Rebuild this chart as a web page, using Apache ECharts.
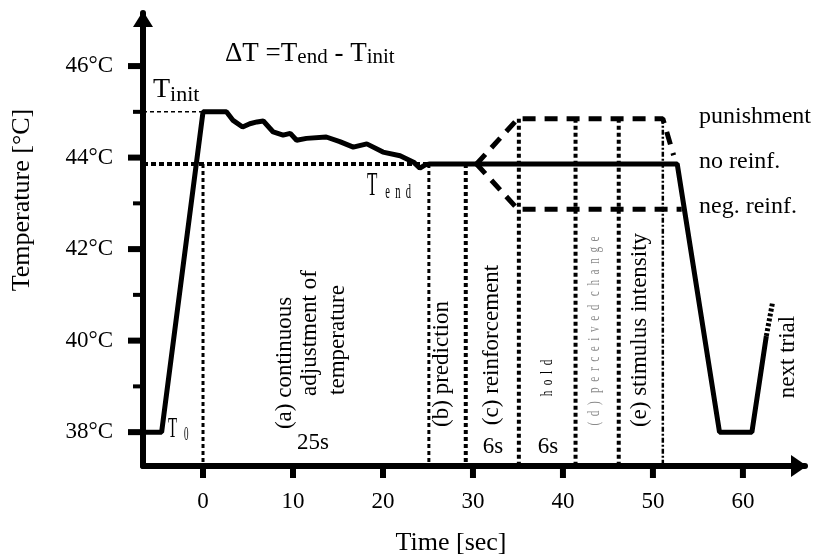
<!DOCTYPE html>
<html>
<head>
<meta charset="utf-8">
<title>Trial temperature course</title>
<script src="https://cdn.jsdelivr.net/npm/echarts@6/dist/echarts.min.js"></script>
<style>
  html, body { margin: 0; padding: 0; background: #fff; }
  #main { width: 821px; height: 557px; }
</style>
</head>
<body>
<div id="main"></div>
<script>
// axis ticks
var xTicks = [0, 10, 20, 30, 40, 50, 60];
var yTicks = [38, 40, 42, 44, 46];
var yMinorTicks = [39, 41, 43, 45];

// temperature course of one trial (sec, °C)
var mainTime = [-6.7, -4.6, 0, 1.9, 2.6, 3.3, 4.4, 5.2, 6.0, 6.7, 7.8, 8.9, 9.7, 10.4, 11.5, 13.7, 15.2, 16.7, 18.2, 20.0, 21.9, 23.4, 24.1, 24.7, 25.2, 52.7, 57.4, 61.0, 62.6];
var mainTemp = [38, 38, 45, 45, 45, 44.82, 44.67, 44.74, 44.78, 44.8, 44.56, 44.49, 44.53, 44.38, 44.42, 44.45, 44.35, 44.23, 44.3, 44.12, 44.04, 43.9, 43.77, 43.84, 43.86, 43.86, 38, 38, 40.1];
var nextTime = [62.6, 63.3];
var nextTemp = [40.1, 40.84];
var punTime = [30.4, 35.0, 51.1, 52.3];
var punTemp = [43.86, 44.85, 44.85, 44.05];
var negTime = [30.4, 35.0, 53.2];
var negTemp = [43.86, 42.87, 42.87];

var tInit = 45;
var tEnd = 43.86;
// phase boundaries: time and top of the dotted line
var phaseTime = [0, 25.1, 29.2, 35.1, 41.4, 46.2, 51.1];
var phaseTop = [43.86, 43.86, 43.86, 44.85, 44.85, 44.85, 44.85];

var XMIN = -6.67, XMAX = 66.9, YMIN = 37.26, YMAX = 47.16;
var SERIF = '"Liberation Serif", "Times New Roman", serif';

function pairs(xs, ys) {
    return xs.map(function (x, i) { return [x, ys[i]]; });
}
function spaced(s, gap) {
    return s.split('').join(gap);
}
function lineSeries(data, width, type, z) {
    return {
        type: 'line', data: data, symbol: 'none', silent: true, z: z || 3,
        lineStyle: { color: '#000', width: width, type: type || 'solid', cap: 'butt' }
    };
}
// tick marks drawn through the axis scales
function tickSeries(values, onX, len, width) {
    return {
        type: 'custom', silent: true, clip: false, z: 6,
        data: values.map(function (v) { return onX ? [v, YMIN] : [XMIN, v]; }),
        renderItem: function (params, api) {
            var p = api.coord([api.value(0), api.value(1)]);
            return {
                type: 'line',
                shape: onX ? { x1: p[0], y1: p[1], x2: p[0], y2: p[1] + len }
                           : { x1: p[0], y1: p[1], x2: p[0] - len, y2: p[1] },
                style: { stroke: '#000', lineWidth: width }
            };
        }
    };
}
function txt(x, y, text, o) {
    o = o || {};
    return {
        type: 'text', x: x, y: y, rotation: o.rot || 0, scaleX: o.sx || 1, z: 100,
        style: {
            text: text, fontSize: o.size || 23, fontFamily: SERIF, fill: o.color || '#000',
            align: o.align || 'center', verticalAlign: o.va || 'middle',
            textAlign: o.align || 'center', textVerticalAlign: o.va || 'middle',
            rich: o.rich
        }
    };
}
var UP = Math.PI / 2;

var chart = echarts.init(document.getElementById('main'));

var series = [
    lineSeries(pairs([XMIN, 0], [tInit, tInit]), 1.5, [4, 3]),
    lineSeries(pairs([XMIN, phaseTime[1]], [tEnd, tEnd]), 4, [5, 3]),
    lineSeries(pairs(mainTime, mainTemp), 5, 'solid', 5),
    lineSeries(pairs(nextTime, nextTemp), 5, [3, 2], 5),
    lineSeries(pairs(punTime, punTemp), 5, [13, 9], 4),
    lineSeries(pairs(negTime, negTemp), 5, [13, 9], 4),
    tickSeries(xTicks, true, 12, 6),
    tickSeries(yTicks, false, 15, 6),
    tickSeries(yMinorTicks, false, 10, 4)
];
phaseTime.forEach(function (t, i) {
    var last = i === phaseTime.length - 1;
    var w = (i < 2) ? 3 : (last ? 2.5 : 4);
    series.push(lineSeries([[t, phaseTop[i]], [t, YMIN]], w, last ? [5, 2, 2, 2] : [4, 3], 2));
});

var option = {
    animation: false,
    backgroundColor: '#fff',
    grid: { left: 143, right: 16, top: 13, bottom: 91 },
    xAxis: {
        type: 'value', min: XMIN, max: XMAX,
        splitLine: { show: false },
        axisLine: {
            show: true, onZero: false,
            lineStyle: { color: '#000', width: 6 },
            symbol: ['none', 'triangle'], symbolSize: [22, 16], symbolOffset: [0, -6]
        },
        axisTick: { show: false },
        axisLabel: { customValues: xTicks, color: '#000', fontSize: 23, fontFamily: SERIF, margin: 24 }
    },
    yAxis: {
        type: 'value', min: YMIN, max: YMAX,
        splitLine: { show: false },
        axisLine: {
            show: true, onZero: false,
            lineStyle: { color: '#000', width: 6 },
            symbol: ['none', 'triangle'], symbolSize: [20, 16], symbolOffset: [0, -6]
        },
        axisTick: { show: false },
        axisLabel: { customValues: yTicks, formatter: '{value}°C', color: '#000', fontSize: 23, fontFamily: SERIF, margin: 30 }
    },
    series: series,
    graphic: [
        txt(22, 200, 'Temperature [°C]', { rot: UP, size: 26 }),
        txt(451, 543, 'Time [sec]', { size: 26 }),
        txt(225, 54, '{m|ΔT =T}{s|end}{m| - T}{s|init}', {
            align: 'left',
            rich: {
                m: { fontSize: 27, fontFamily: SERIF, lineHeight: 30 },
                s: { fontSize: 21, fontFamily: SERIF, lineHeight: 30, padding: [6, 0, 0, 0] }
            }
        }),
        txt(153, 90, '{m|T}{s|init}', {
            align: 'left',
            rich: {
                m: { fontSize: 28, fontFamily: SERIF, lineHeight: 30 },
                s: { fontSize: 22, fontFamily: SERIF, lineHeight: 30, padding: [10, 0, 0, 0] }
            }
        }),
        txt(367, 203, '{m|T}{s|' + spaced(' end', '  ') + '}', {
            align: 'left', va: 'bottom', sx: 0.5,
            rich: {
                m: { fontSize: 34, fontFamily: SERIF, verticalAlign: 'bottom' },
                s: { fontSize: 21, fontFamily: SERIF, verticalAlign: 'bottom' }
            }
        }),
        txt(168, 444, '{m|T}{s|   0}', {
            align: 'left', va: 'bottom', sx: 0.5,
            rich: {
                m: { fontSize: 30, fontFamily: SERIF, verticalAlign: 'bottom' },
                s: { fontSize: 18, fontFamily: SERIF, verticalAlign: 'bottom' }
            }
        }),
        txt(285, 363, '(a) continuous', { rot: UP }),
        txt(310, 333, 'adjustment of', { rot: UP }),
        txt(338, 340, 'temperature', { rot: UP }),
        txt(313, 443, '25s'),
        txt(442, 364, '(b) prediction', { rot: UP }),
        txt(492, 345, '(c) reinforcement', { rot: UP }),
        txt(493, 447, '6s'),
        txt(548, 378, spaced('hold', '  '), { rot: UP, size: 16, sx: 0.7 }),
        txt(548, 447, '6s'),
        txt(595, 331, spaced('(d)', '  ') + '   ' + spaced('perceived', '  ') + '   ' + spaced('change', '  '), { rot: UP, size: 16, sx: 0.7, color: '#8a8a8a' }),
        txt(640, 330, '(e) stimulus intensity', { rot: UP }),
        txt(788, 357, 'next trial', { rot: UP }),
        txt(699, 117, 'punishment', { align: 'left', size: 24 }),
        txt(699, 162, 'no reinf.', { align: 'left', size: 24 }),
        txt(699, 207, 'neg. reinf.', { align: 'left', size: 24 })
    ]
};

chart.setOption(option);
</script>
</body>
</html>
